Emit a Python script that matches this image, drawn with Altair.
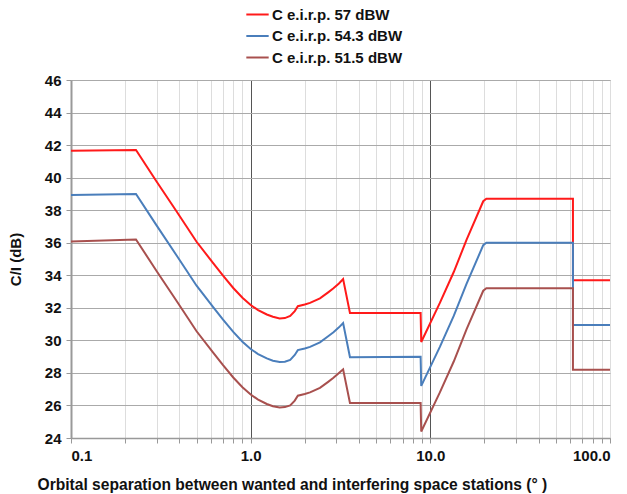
import altair as alt
import pandas as pd

x_sep = [0.1, 0.23, 0.30, 0.388, 0.50, 0.62, 0.70, 0.80, 0.90, 1.0, 1.1, 1.23, 1.33, 1.45, 1.55, 1.66,
         1.76, 1.83, 2.0, 2.14, 2.43, 2.7, 2.89, 3.1, 3.27, 3.57, 8.83, 8.9, 11.3, 13.5, 15.9, 19.7,
         20.5, 62.2, 62.2, 100]
red = [41.65, 41.7, 39.75, 37.9, 36.06, 34.73, 33.99, 33.22, 32.62, 32.17, 31.86, 31.59, 31.45, 31.35,
       31.37, 31.5, 31.8, 32.1, 32.2, 32.3, 32.58, 32.95, 33.2, 33.5, 33.77, 31.68, 31.68, 29.9, 32.3,
       34.2, 36.17, 38.55, 38.7, 38.7, 33.7, 33.7]
blue = [38.93, 39.0, 37.05, 35.2, 33.36, 32.03, 31.29, 30.52, 29.92, 29.47, 29.16, 28.89, 28.75, 28.67,
        28.69, 28.8, 29.1, 29.4, 29.5, 29.6, 29.88, 30.25, 30.5, 30.8, 31.06, 28.97, 29.0, 27.2, 29.6,
        31.5, 33.47, 35.85, 36.0, 36.0, 30.95, 30.95]
brown = [36.08, 36.2, 34.25, 32.4, 30.56, 29.23, 28.49, 27.72, 27.12, 26.67, 26.36, 26.09, 25.95, 25.88,
         25.9, 26.0, 26.3, 26.6, 26.7, 26.8, 27.08, 27.45, 27.7, 28.0, 28.22, 26.15, 26.15, 24.4, 26.8,
         28.7, 30.67, 33.05, 33.2, 33.2, 28.2, 28.2]

series_names = ["C e.i.r.p. 57 dBW", "C e.i.r.p. 54.3 dBW", "C e.i.r.p. 51.5 dBW"]
series_colors = ["#ff1a1a", "#4a7ebb", "#a8504e"]

rows = []
for name, vals in zip(series_names, [red, blue, brown]):
    for i, (xv, yv) in enumerate(zip(x_sep, vals)):
        rows.append({"x": xv, "y": yv, "series": name, "order": i})
df = pd.DataFrame(rows)

x_ticks = [0.1, 0.2, 0.3, 0.4, 0.5, 0.6, 0.7, 0.8, 0.9,
           1, 2, 3, 4, 5, 6, 7, 8, 9,
           10, 20, 30, 40, 50, 60, 70, 80, 90, 100]
y_ticks = list(range(24, 47, 2))

major_test = "abs(log(datum.value)/LN10 - round(log(datum.value)/LN10)) < 0.001"

chart = alt.Chart(df).mark_line(strokeWidth=2).encode(
    x=alt.X("x:Q",
            scale=alt.Scale(type="log", domain=[0.1, 100], nice=False),
            axis=alt.Axis(
                values=x_ticks,
                labelExpr=f"({major_test}) ? format(datum.value, '.1f') : ''",
                title="Orbital separation between wanted and interfering space stations (°   )",
                titleAnchor="start", titleAlign="left", titleX=-34, titleY=51,
                titleBaseline="alphabetic", titleFontSize=15.6,
                gridColor={"condition": {"test": "datum.value == 1 || datum.value == 10", "value": "#555555"},
                           "value": "#dddddd"},
                gridWidth=1,
                tickColor="#999999", tickSize=5,
                labelPadding=5,
                domainColor="#999999", domainWidth=1.5,
            )),
    y=alt.Y("y:Q",
            scale=alt.Scale(domain=[24, 46], nice=False),
            axis=alt.Axis(values=y_ticks, title="C/I (dB)", titleX=-48,
                          gridColor="#aaaaaa", gridWidth=1,
                          tickColor="#999999", tickSize=5, labelPadding=5,
                          domainColor="#999999", domainWidth=2)),
    color=alt.Color("series:N",
                    scale=alt.Scale(domain=series_names, range=series_colors),
                    legend=alt.Legend(title=None, orient="none", legendX=174, legendY=-78,
                                      symbolType="stroke", symbolSize=500, symbolStrokeWidth=2,
                                      labelFontSize=15, labelFontWeight="bold", labelColor="#111111",
                                      labelFont="Liberation Sans", rowPadding=0.5, labelOffset=2)),
    order="order:Q",
).properties(
    width=539, height=358,
    autosize=alt.AutoSizeParams(type="none"),
    padding={"left": 71, "top": 80, "right": 17, "bottom": 56},
).configure_axis(
    labelFont="Liberation Sans", titleFont="Liberation Sans",
    labelFontSize=15, titleFontSize=15, labelFontWeight="bold", titleFontWeight="bold",
    labelColor="#111111", titleColor="#111111",
).configure_view(stroke="#aaaaaa", strokeWidth=1)

chart.save("out.html", embed_options={"renderer": "svg", "actions": False})
